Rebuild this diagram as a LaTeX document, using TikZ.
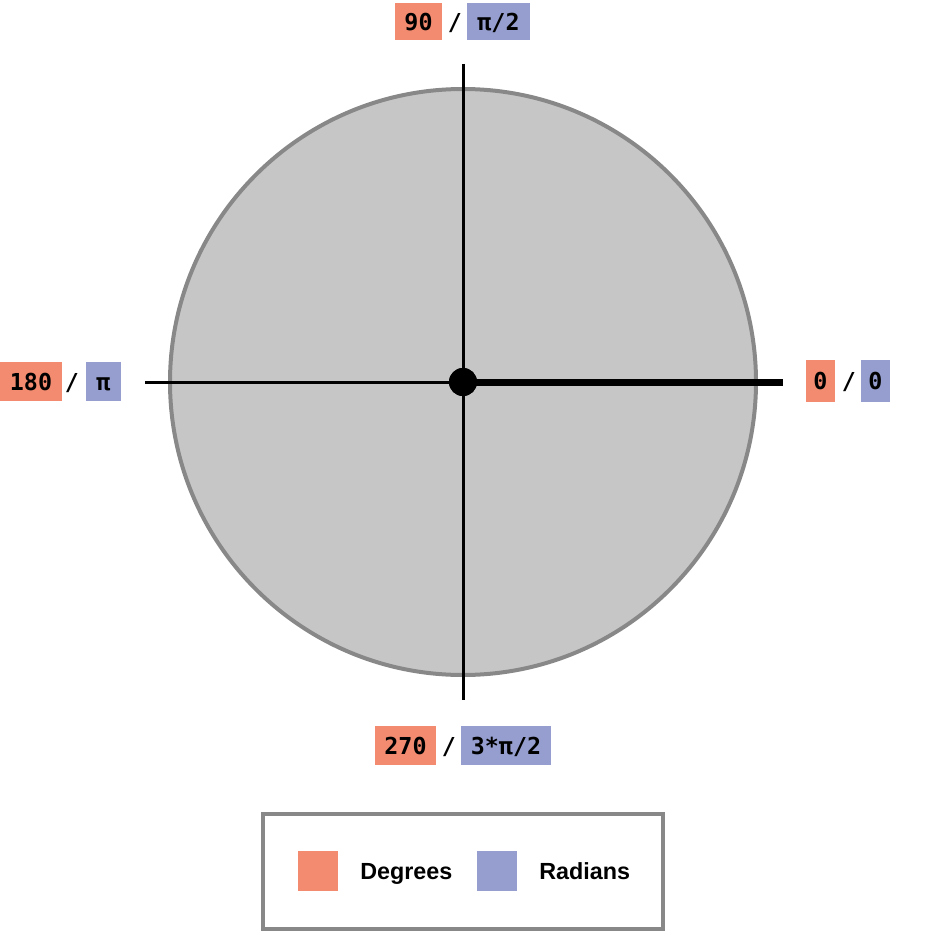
\documentclass[tikz,border=0pt]{standalone}
\usepackage{fontspec}
\setmainfont{Liberation Sans}
\newfontfamily\monob{DejaVu Sans Mono}[BoldFont={DejaVu Sans Mono Bold}]
\definecolor{degc}{HTML}{F38B70}
\definecolor{radc}{HTML}{959ECE}
\definecolor{circfill}{HTML}{C6C6C6}
\definecolor{circline}{HTML}{888888}
\begin{document}
\begin{tikzpicture}[x=0.75pt,y=-0.75pt,
  lbl/.style={inner sep=0pt,font=\monob\bfseries\fontsize{17.5}{20}\selectfont,text=black,anchor=center,text height=12.8pt,text depth=0pt},
  degbox/.style={lbl,fill=degc},
  radbox/.style={lbl,fill=radc},
  slash/.style={lbl},
  axis/.style={line width={3*0.75pt},draw=black},
  legtext/.style={inner sep=0pt,font=\bfseries\fontsize{17.5}{20}\selectfont,anchor=base west}]
\useasboundingbox (0,0) rectangle (946,931);
% circle
\draw[fill=circfill,draw=circline,line width={4*0.75pt}] (463,382) circle[radius=293];
% axes
\coordinate (top) at (463,64);
\coordinate (bot) at (463,700);
\coordinate (left) at (145,382);
\coordinate (right) at (783,382);
\node[circle,fill=black,inner sep=0pt,minimum size={28*0.75pt}] (ctr) at (463,382) {};
\draw[axis] (top) -- (bot);
\draw[axis] (left) -- (ctr.center);
\draw[line width={7*0.75pt}] (ctr.center) -- (right);
\node[circle,fill=black,inner sep=0pt,minimum size={28*0.75pt}] at (ctr) {};
% labels top
\node[degbox,minimum width={47*0.75pt},minimum height={37*0.75pt}] (d90) at (418.5,21.5) {90};
\node[slash] (s90) at (455,21.5) {/};
\node[radbox,minimum width={63*0.75pt},minimum height={37*0.75pt}] (r90) at (498.5,21.5) {π/2};
% left
\node[degbox,minimum width={62*0.75pt},minimum height={39*0.75pt}] (d180) at (31,381.5) {180};
\node[slash] (s180) at (72,381.5) {/};
\node[radbox,minimum width={35*0.75pt},minimum height={39*0.75pt}] (r180) at (103.5,381.5) {π};
% right
\node[degbox,minimum width={29*0.75pt},minimum height={42*0.75pt}] (d0) at (820.5,381) {0};
\node[slash] (s0) at (849,381) {/};
\node[radbox,minimum width={29*0.75pt},minimum height={42*0.75pt}] (r0) at (875.5,381) {0};
% bottom
\node[degbox,minimum width={61*0.75pt},minimum height={39*0.75pt}] (d270) at (405.5,745.5) {270};
\node[slash] (s270) at (449,745.5) {/};
\node[radbox,minimum width={90*0.75pt},minimum height={39*0.75pt}] (r270) at (506,745.5) {3*π/2};
% legend
\node[draw=circline,line width={4*0.75pt},fill=white,minimum width={400*0.75pt},minimum height={115*0.75pt},inner sep=0pt] (leg) at (463,871.5) {};
\node[fill=degc,minimum size={40*0.75pt},inner sep=0pt] (legd) at (318,871) {};
\node[legtext] (legdt) at (360,879) {Degrees};
\node[fill=radc,minimum size={40*0.75pt},inner sep=0pt] (legr) at (497,871) {};
\node[legtext] (legrt) at (539,879) {Radians};
\end{tikzpicture}
\end{document}
